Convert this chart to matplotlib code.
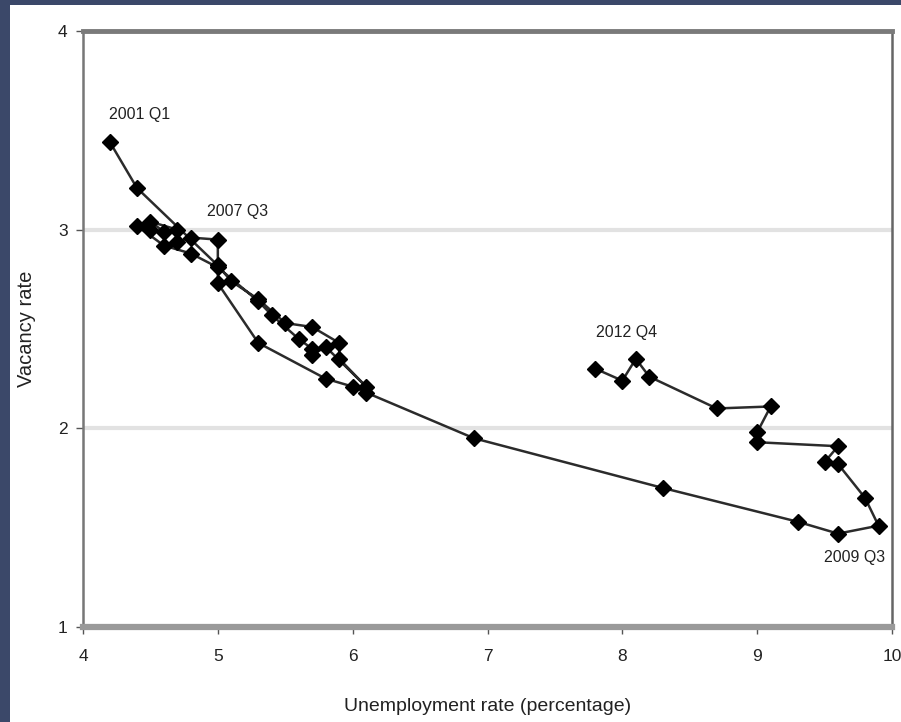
import matplotlib.pyplot as plt
from matplotlib.patches import Rectangle

# Beveridge curve, 2001 Q1 to 2012 Q4
unemployment = [4.2, 4.4, 5.0, 5.1, 5.3, 5.5, 5.7, 5.9, 5.9, 6.1,
                5.8, 5.7, 5.7, 5.6, 5.4, 5.3, 5.0, 4.8, 4.6, 4.4,
                4.5, 4.6, 4.5, 4.7, 4.7, 4.8, 5.0, 5.0, 5.3, 5.8,
                6.0, 6.1, 6.9, 8.3, 9.3, 9.6, 9.9, 9.8, 9.6, 9.5,
                9.6, 9.0, 9.0, 9.1, 8.7, 8.2, 8.1, 8.0, 7.8]
vacancy = [3.44, 3.21, 2.82, 2.74, 2.65, 2.53, 2.51, 2.43, 2.35, 2.21,
           2.41, 2.37, 2.40, 2.45, 2.57, 2.64, 2.81, 2.88, 2.92, 3.02,
           3.00, 2.99, 3.04, 3.00, 2.94, 2.96, 2.95, 2.73, 2.43, 2.25,
           2.21, 2.18, 1.95, 1.70, 1.53, 1.47, 1.51, 1.65, 1.82, 1.83,
           1.91, 1.93, 1.98, 2.11, 2.10, 2.26, 2.35, 2.24, 2.30]

labels = ['2001 Q1', '2007 Q3', '2012 Q4', '2009 Q3']
label_u = [4.42, 5.15, 8.03, 9.72]
label_v = [3.58, 3.09, 2.48, 1.35]

xticks = [4, 5, 6, 7, 8, 9, 10]
yticks = [1, 2, 3, 4]

plt.rcParams['font.family'] = ['Liberation Sans Narrow', 'Liberation Sans', 'DejaVu Sans']

fig = plt.figure(figsize=(9.01, 7.22), dpi=100, facecolor='#3b4869')
fig.add_artist(Rectangle((10 / 901, 0), 1, (722 - 5) / 722,
                         transform=fig.transFigure, facecolor='white',
                         edgecolor='none', zorder=-5))

ax = fig.add_axes([83 / 901, (722 - 627) / 722, (892 - 83) / 901, (627 - 31) / 722])
ax.set_facecolor('white')

for y in [2, 3]:
    ax.axhline(y, color='#e2e2e2', lw=3, zorder=1)

ax.plot(unemployment, vacancy, color='#2b2b2b', lw=1.8, marker='D',
        markersize=8.5, markerfacecolor='black', markeredgecolor='black',
        zorder=3)

for txt, u, v in zip(labels, label_u, label_v):
    ax.text(u, v, txt, ha='center', va='center', fontsize=11.5, color='#222222')

ax.set_xlim(4, 10)
ax.set_ylim(1, 4)
ax.set_xticks(xticks)
ax.set_yticks(yticks)
ax.tick_params(axis='both', labelsize=12.5, color='#555555', length=5, width=1,
               labelcolor='#222222')
ax.tick_params(axis='x', pad=11)
ax.tick_params(axis='y', pad=6)

ax.spines['top'].set_color('#7a7a7a')
ax.spines['top'].set_linewidth(3.5)
ax.spines['bottom'].set_color('#9a9a9a')
ax.spines['bottom'].set_linewidth(4.5)
ax.spines['left'].set_color('#777777')
ax.spines['left'].set_linewidth(1.8)
ax.spines['right'].set_color('#666666')
ax.spines['right'].set_linewidth(1.8)

ax.set_xlabel('Unemployment rate (percentage)', fontsize=14, color='#222222', labelpad=24)
ax.set_ylabel('Vacancy rate', fontsize=14.5, color='#222222', labelpad=16)

fig.savefig('out.png', dpi=100, facecolor=fig.get_facecolor())
